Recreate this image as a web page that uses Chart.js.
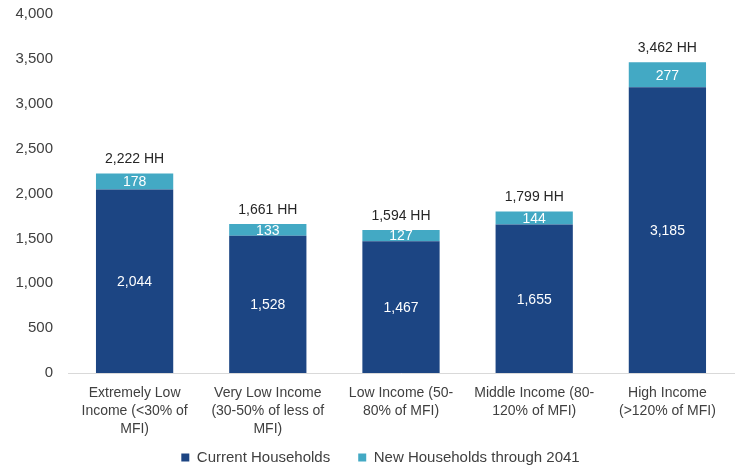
<!DOCTYPE html>
<html>
<head>
<meta charset="utf-8">
<script src="https://cdn.jsdelivr.net/npm/chart.js@4"></script>
<style>
html,body{margin:0;padding:0;background:#fff;}
#wrap{width:740px;height:469px;}
</style>
</head>
<body>
<div id="wrap"><canvas id="c" width="740" height="469"></canvas></div>
<script>
const categories = [
  ["Extremely Low", "Income (<30% of", "MFI)"],
  ["Very Low Income", "(30-50% of less of", "MFI)"],
  ["Low Income (50-", "80% of MFI)"],
  ["Middle Income (80-", "120% of MFI)"],
  ["High Income", "(>120% of MFI)"]
];
const currentHouseholds = [2044, 1528, 1467, 1655, 3185];
const newHouseholds = [178, 133, 127, 144, 277];
const totals = [2222, 1661, 1594, 1799, 3462];
const yTicks = [0, 500, 1000, 1500, 2000, 2500, 3000, 3500, 4000];

const FONT = "'Liberation Sans', Arial, sans-serif";
const fmt = v => v.toLocaleString('en-US');

const labelPlugin = {
  id: 'labels',
  afterLayout(chart) {
    // lift the legend so it sits just under the category labels
    const lg = chart.legend;
    if (lg) { lg.top -= 17; lg.bottom -= 17; lg.left += 6; lg.right += 6; }
  },
  afterDatasetsDraw(chart) {
    const ctx = chart.ctx;
    ctx.save();
    ctx.font = "14px " + FONT;
    ctx.textAlign = 'center';
    ctx.textBaseline = 'middle';
    chart.data.datasets.forEach((ds, di) => {
      const meta = chart.getDatasetMeta(di);
      meta.data.forEach((el, i) => {
        ctx.fillStyle = '#ffffff';
        ctx.fillText(fmt(ds.data[i]), el.x, (el.y + el.base) / 2 + 1);
      });
    });
    const last = chart.getDatasetMeta(chart.data.datasets.length - 1);
    last.data.forEach((el, i) => {
      ctx.fillStyle = '#262626';
      ctx.fillText(fmt(totals[i]) + ' HH', el.x, el.y - 14);
    });
    ctx.restore();
  }
};

new Chart(document.getElementById('c'), {
  type: 'bar',
  data: {
    labels: categories,
    datasets: [
      { label: 'Current Households', data: currentHouseholds, backgroundColor: '#1c4583', barPercentage: 0.58, categoryPercentage: 1.0 },
      { label: 'New Households through 2041', data: newHouseholds, backgroundColor: '#43a9c4', barPercentage: 0.58, categoryPercentage: 1.0 }
    ]
  },
  options: {
    responsive: false,
    animation: false,
    layout: { padding: { top: 14, right: 6, left: 15, bottom: -23 } },
    plugins: {
      legend: {
        position: 'bottom',
        labels: { boxWidth: 8, boxHeight: 8, color: '#404040', font: { size: 15, family: FONT }, padding: 28 }
      },
      tooltip: { enabled: false }
    },
    scales: {
      x: {
        stacked: true,
        grid: { display: false, drawTicks: false },
        border: { display: true, color: '#d9d9d9' },
        ticks: { color: '#404040', font: { size: 14, family: FONT, lineHeight: 1.28 }, maxRotation: 0, autoSkip: false, padding: 11 },
        afterFit: axis => { axis.height = 66; axis.paddingLeft = 0; axis.paddingRight = 0; }
      },
      y: {
        stacked: true,
        min: 0, max: 4000,
        afterBuildTicks: axis => { axis.ticks = yTicks.map(v => ({ value: v })); },
        grid: { display: false, drawTicks: false },
        border: { display: false },
        ticks: { color: '#404040', font: { size: 15, family: FONT }, padding: 15, callback: v => fmt(v) },
        afterFit: axis => { axis.width = 53; axis.paddingTop = 0; axis.paddingBottom = 0; }
      }
    }
  },
  plugins: [labelPlugin]
});
</script>
</body>
</html>
